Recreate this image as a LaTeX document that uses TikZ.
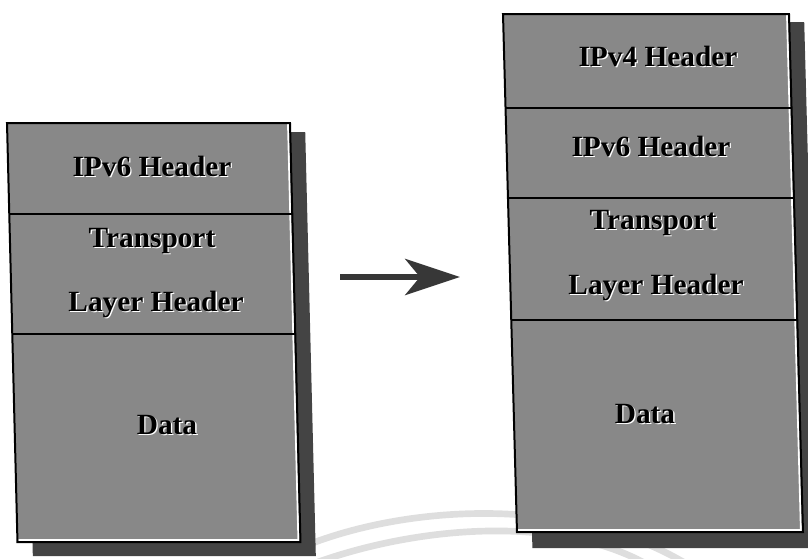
\documentclass[tikz,border=0pt]{standalone}
\usepackage{fontspec}
\setmainfont{Liberation Serif}
\usetikzlibrary{arrows.meta}

\definecolor{panelgray}{RGB}{136,136,136}
\definecolor{dropshade}{RGB}{68,68,68}
\definecolor{arrowgray}{RGB}{55,55,55}
\definecolor{watermark}{RGB}{222,222,222}

\tikzset{
  shadowbox/.style={fill=dropshade},
  panelbox/.style={fill=panelgray},
  rimline/.style={draw=black, line width=1.5pt},
  glint/.style={draw=white, line width=1.4pt},
  lbl/.style={font=\bfseries\fontsize{22}{24}\selectfont, anchor=base, inner sep=0pt, text=black},
  lblglint/.style={lbl, text=white},
  bigarrow/.style={draw=arrowgray, line width=5.2pt,
    -{Stealth[length=41pt, width=27pt, inset=11pt, fill=arrowgray]}},
  wmark/.style={draw=watermark, line width=5pt},
}

% embossed label: white highlight underneath, black text on top
\newcommand\embosslabel[4]{%
  \node[lblglint] (#1-hl) at (#2+1.3,#3+1.3) {#4};
  \node[lbl] (#1) at (#2,#3) {#4};}

\begin{document}
\begin{tikzpicture}[x=0.75pt,y=-0.75pt]
\useasboundingbox (0,0) rectangle (808,558);

% faint background arcs
\draw[wmark] (300,548) .. controls (400,506) and (570,492) .. (690,566);
\draw[wmark] (318,562) .. controls (420,526) and (560,514) .. (650,566);

% ---------- left stack ----------
\begin{scope}[shift={(7,123)}, xslant=-0.025]
  \fill[shadowbox] (15,9) rectangle (298,433);
  \fill[panelbox] (0,0) rectangle (283,419);
  \draw[glint] (281,1) -- (281,417) -- (1,417);
  \draw[rimline] (0,91) -- (283,91);
  \draw[rimline] (0,211) -- (283,211);
  \draw[rimline] (0,0) rectangle (283,419);
\end{scope}

\embosslabel{lipv6}{152}{176}{IPv6 Header}
\embosslabel{ltrans}{152}{247}{Transport}
\embosslabel{llayer}{156}{311}{Layer Header}
\embosslabel{ldata}{167}{434}{Data}

% ---------- right stack ----------
\begin{scope}[shift={(503,14)}, xslant=-0.027]
  \fill[shadowbox] (15,8) rectangle (301,534);
  \fill[panelbox] (0,0) rectangle (286,518);
  \draw[glint] (284,1) -- (284,516) -- (1,516);
  \draw[rimline] (0,94) -- (286,94);
  \draw[rimline] (0,184) -- (286,184);
  \draw[rimline] (0,306) -- (286,306);
  \draw[rimline] (0,0) rectangle (286,518);
\end{scope}

\embosslabel{ripv4}{658}{66}{IPv4 Header}
\embosslabel{ripv6}{651}{156}{IPv6 Header}
\embosslabel{rtrans}{653}{229}{Transport}
\embosslabel{rlayer}{656}{294}{Layer Header}
\embosslabel{rdata}{645}{423}{Data}

% ---------- arrow between the stacks ----------
\coordinate (arrowstart) at (340,277);
\coordinate (arrowtip) at (460,277);
\draw[bigarrow] (arrowstart) -- (arrowtip);

\end{tikzpicture}
\end{document}
